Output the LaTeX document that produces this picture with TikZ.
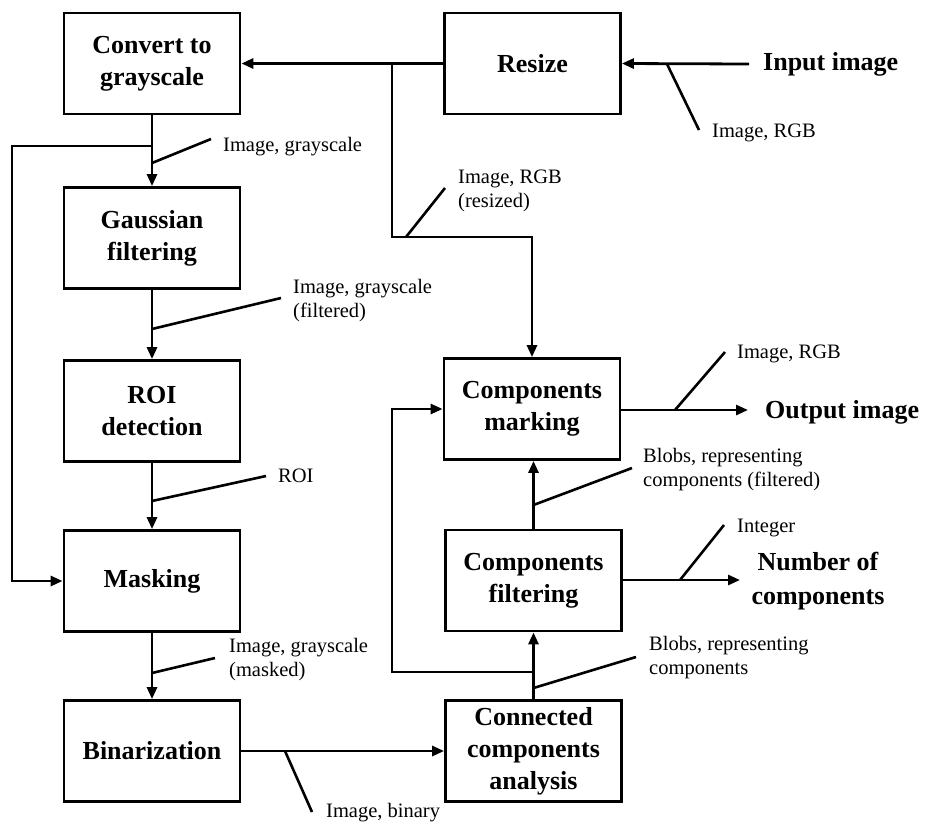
\documentclass[tikz,border=0pt]{standalone}
\usepackage{fontspec}
\setmainfont{Liberation Serif}
\usetikzlibrary{arrows.meta}
\begin{document}
\begin{tikzpicture}[x=1pt,y=-1pt,
 box/.style={draw, line width=2.8pt, minimum width=176pt, minimum height=101pt, align=center, inner sep=0pt, font=\fontsize{26}{32}\selectfont\bfseries},
 term/.style={font=\fontsize{26}{34}\selectfont\bfseries, inner sep=0pt, align=center},
 lab/.style={font=\fontsize{20.5}{24}\selectfont, inner sep=0pt, align=left, anchor=west},
 wire/.style={line width=2.8pt},
 arr/.style={wire, -{Triangle[length=12pt,width=10pt]}},
 tickline/.style={line width=2.6pt},
]
\useasboundingbox (0,0) rectangle (925,823);

% boxes
\node[box] (conv) at (152,63.5) {Convert to\\grayscale};
\node[box] (resize) at (532.5,63.5) {Resize};
\node[box] (gauss) at (152,238) {Gaussian\\filtering};
\node[box] (roi) at (152,411) {ROI\\detection};
\node[box] (mask) at (152,581) {Masking};
\node[box] (bin) at (152,751) {Binarization};
\node[box] (mark) at (532,409) {Components\\marking};
\node[box] (filt) at (533.5,580.5) {Components\\filtering};
\node[box] (conn) at (533.5,751) {Connected\\components\\analysis};

% terminals
\node[term, anchor=west] (inimg) at (763,64) {Input image};
\node[term, anchor=west] (outimg) at (765,412) {Output image};
\node[term] (numc) at (818,581) {Number of\\components};

% labels
\node[lab] (l1) at (223,147) {Image, grayscale};
\node[lab] (l2) at (712,133) {Image, RGB};
\node[lab] (l3) at (458,191) {Image, RGB\\(resized)};
\node[lab] (l4) at (293,301) {Image, grayscale\\(filtered)};
\node[lab] (l5) at (278,476) {ROI};
\node[lab] (l6) at (229,660) {Image, grayscale\\(masked)};
\node[lab] (l7) at (326,813) {Image, binary};
\node[lab] (l8) at (737,354) {Image, RGB};
\node[lab] (l9) at (643,470) {Blobs, representing\\components (filtered)};
\node[lab] (l10) at (737,528) {Integer};
\node[lab] (l11) at (649,658) {Blobs, representing\\components};

% free-end coordinates
\coordinate (inL) at (749,64);
\coordinate (outR) at (748,410);
\coordinate (numR) at (740,580);
\coordinate (b1) at (392,64);
\coordinate (b2) at (392,237);
\coordinate (lp) at (152,146);
\coordinate (lpc) at (12,146);
\coordinate (c1) at (533.5,672);
\coordinate (c2) at (392,672);

% main connectors
\draw[arr] (inL) -- (resize.east);
\draw[arr] (resize.west) -- (conv.east);
\draw[arr] (b1) -- (b2) -| (mark.north);
\draw[arr] (conv.south) -- (gauss.north);
\draw[arr] (lp) -- (lpc) |- (mask.west);
\draw[arr] (gauss.south) -- (roi.north);
\draw[arr] (roi.south) -- (mask.north);
\draw[arr] (mask.south) -- (bin.north);
\draw[arr] (bin.east) -- (conn.west);
\draw[arr] (conn.north) -- (filt.south);
\draw[arr] (c1) -- (c2) |- (mark.west);
\draw[arr] (filt.north) -- (filt.north |- mark.south);
\draw[arr] (mark.east |- outR) -- (outR);
\draw[arr] (filt.east |- numR) -- (numR);

% label ticks
\coordinate (t1a) at (152,163); \coordinate (t1b) at (211,139);
\coordinate (t2a) at (152,329); \coordinate (t2b) at (281,298);
\coordinate (t3a) at (152,501); \coordinate (t3b) at (266,476);
\coordinate (t4a) at (152,673); \coordinate (t4b) at (215,658);
\coordinate (t5a) at (285,751); \coordinate (t5b) at (312,812);
\coordinate (t6a) at (406,237); \coordinate (t6b) at (445,188);
\coordinate (t7a) at (667,64); \coordinate (t7b) at (699,130);
\coordinate (t8a) at (675,410); \coordinate (t8b) at (725,352);
\coordinate (t9a) at (533.5,505); \coordinate (t9b) at (632,468);
\coordinate (t10a) at (680,580); \coordinate (t10b) at (724,525);
\coordinate (t11a) at (533.5,688); \coordinate (t11b) at (636,657);
\foreach \i in {1,...,11} \draw[tickline] (t\i a) -- (t\i b);
\end{tikzpicture}
\end{document}
